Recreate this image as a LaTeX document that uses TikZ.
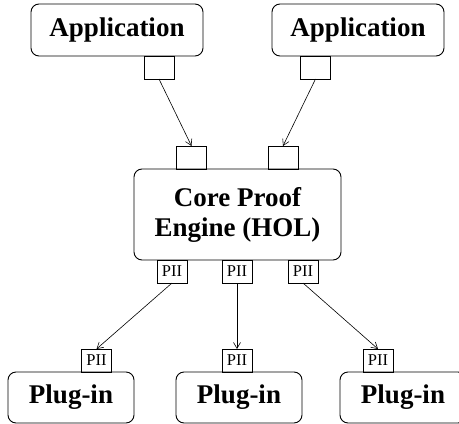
\documentclass[tikz,border=0pt]{standalone}
\usepackage{fontspec}
\setmainfont{Liberation Serif}
\usetikzlibrary{arrows.meta}
\begin{document}
\begin{tikzpicture}[x=1pt,y=-1pt,
  big/.style={draw,rounded corners=8pt,line width=0.9pt,inner sep=0pt,outer sep=0pt,align=center,
    font=\fontsize{27}{30}\selectfont\bfseries},
  port/.style={draw,line width=0.8pt,inner sep=0pt,outer sep=0pt,minimum width=30pt,minimum height=23pt,
    font=\fontsize{16.5}{17}\selectfont},
  conn/.style={line width=0.6pt,-{Straight Barb[length=6pt,width=7pt]}}]
\useasboundingbox (0,0) rectangle (459,424);
\node[big,minimum width=172pt,minimum height=52pt] (app1) at (117,30) {Application};
\node[big,minimum width=172pt,minimum height=52pt] (app2) at (358,30) {Application};
\node[port] (ap1) at (159,67.5) {};
\node[port] (ap2) at (315.5,67.5) {};
\node[port] (c1) at (191.5,157.5) {};
\node[port] (c2) at (283,157.5) {};
\node[big,minimum width=207pt,minimum height=91pt] (core) at (237.5,214.5) {Core Proof\\Engine (HOL)};
\node[port] (p1) at (172,271.5) {PII};
\node[port] (p2) at (237,271.5) {PII};
\node[port] (p3) at (303,271.5) {PII};
\node[port] (q1) at (96.5,360.5) {PII};
\node[port] (q2) at (237,360.5) {PII};
\node[port] (q3) at (378,360.5) {PII};
\node[big,minimum width=126pt,minimum height=51pt] (plug1) at (71,397.5) {Plug-in};
\node[big,minimum width=126pt,minimum height=51pt] (plug2) at (239,397.5) {Plug-in};
\node[big,minimum width=126pt,minimum height=51pt] (plug3) at (403,397.5) {Plug-in};
\draw[conn] (ap1.south) -- (c1.north);
\draw[conn] (ap2.south) -- (c2.north);
\draw[conn] (p1.south) -- (q1.north);
\draw[conn] (p2.south) -- (q2.north);
\draw[conn] (p3.south) -- (q3.north);
\end{tikzpicture}
\end{document}
